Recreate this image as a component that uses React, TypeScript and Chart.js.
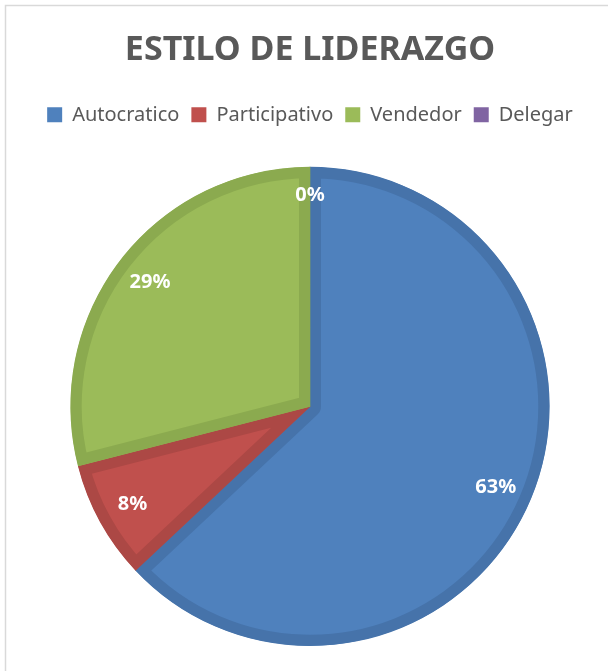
import React, { useEffect, useRef } from "react";
import { Chart, registerables } from "chart.js";

Chart.register(...registerables);

const categories = ["Autocratico", "Participativo", "Vendedor", "Delegar"];
const values = [63, 8, 29, 0];
const percentLabels = ["63%", "8%", "29%", "0%"];
const fillColors = ["#4F81BD", "#C0504D", "#9BBB59", "#8064A2"];
const edgeColors = ["#4673AA", "#AC4845", "#8BAA4F", "#735A92"];

const framePlugin = {
  id: "frame",
  beforeInit(chart: any) {
    const legend = chart.legend;
    if (legend && !legend.__patched) {
      const origFit = legend.fit;
      legend.fit = function () {
        origFit.call(this);
        this.height += 32;
      };
      legend.__patched = true;
    }
  },
  beforeDraw(chart: any) {
    const ctx = chart.ctx;
    ctx.save();
    ctx.fillStyle = "#ffffff";
    ctx.fillRect(0, 0, chart.width, chart.height);
    ctx.strokeStyle = "#D9D9D9";
    ctx.lineWidth = 1.5;
    ctx.strokeRect(5.5, 5.5, chart.width + 40, chart.height + 40);
    ctx.restore();
  },
};

const labelPlugin = {
  id: "sliceLabels",
  afterDatasetsDraw(chart: any) {
    const ctx = chart.ctx;
    const meta = chart.getDatasetMeta(0);
    ctx.save();
    ctx.fillStyle = "#ffffff";
    ctx.font = "bold 20px 'Noto Sans'";
    ctx.textAlign = "center";
    ctx.textBaseline = "middle";
    meta.data.forEach((arc: any, i: number) => {
      const p = arc.getProps(["x", "y", "startAngle", "endAngle", "outerRadius"], true);
      const mid = (p.startAngle + p.endAngle) / 2;
      const r = p.outerRadius * (values[i] === 0 ? 0.88 : 0.845);
      ctx.fillText(percentLabels[i], p.x + Math.cos(mid) * r, p.y + Math.sin(mid) * r);
    });
    ctx.restore();
  },
};

export default function App() {
  const ref = useRef<HTMLCanvasElement | null>(null);
  useEffect(() => {
    document.body.style.margin = "0";
    if (!ref.current) return;
    const chart = new Chart(ref.current, {
      type: "pie",
      data: {
        labels: categories,
        datasets: [
          {
            data: values,
            backgroundColor: fillColors,
            borderColor: edgeColors,
            borderWidth: 11,
            borderAlign: "inner",
          },
        ],
      },
      options: {
        animation: false,
        responsive: false,
        layout: { padding: { left: 12, right: 0, top: 0, bottom: 25 } },
        plugins: {
          title: {
            display: true,
            text: "ESTILO DE LIDERAZGO",
            color: "#595959",
            font: { family: "'Noto Sans'", size: 34, weight: "bold" },
            padding: { top: 30, bottom: 22 },
          },
          legend: {
            position: "top",
            labels: {
              color: "#595959",
              font: { family: "'Noto Sans'", size: 20 },
              boxWidth: 15,
              boxHeight: 15,
              padding: 12,
              generateLabels: (chart: any) =>
                categories.map((text, i) => ({
                  text,
                  fillStyle: fillColors[i],
                  strokeStyle: fillColors[i],
                  lineWidth: 0,
                  fontColor: "#595959",
                  hidden: false,
                  index: i,
                })),
            },
          },
          tooltip: { enabled: false },
        },
      },
      plugins: [framePlugin, labelPlugin],
    });
    return () => chart.destroy();
  }, []);
  return <canvas ref={ref} width={608} height={671} style={{ display: "block" }} />;
}
